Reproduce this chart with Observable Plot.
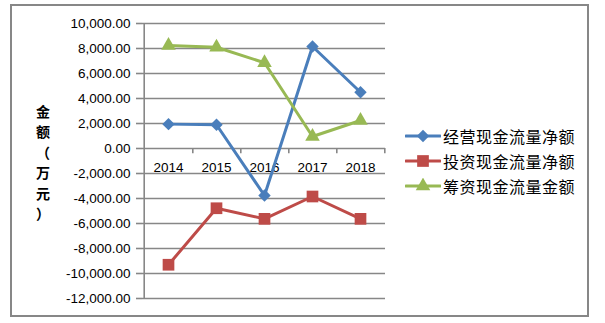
<!DOCTYPE html>
<html><head><meta charset="utf-8">
<script src="https://cdn.jsdelivr.net/npm/d3@7"></script>
<script src="https://cdn.jsdelivr.net/npm/@observablehq/plot@0.6"></script>
<style>
body{margin:0;background:#fff;}
#wrap{position:relative;width:605px;height:323px;overflow:hidden;}
#border{position:absolute;left:10px;top:4px;width:579px;height:313px;border:2px solid #878787;box-sizing:border-box;pointer-events:none;}
#ytitle{position:absolute;left:31px;top:101px;width:24px;text-align:center;font-family:"Noto Sans CJK SC",sans-serif;font-weight:bold;font-size:14px;line-height:20.4px;color:#000;}
#legend{position:absolute;left:405px;top:123px;font-family:"Noto Sans CJK SC",sans-serif;font-size:16px;letter-spacing:0.5px;color:#000;}
.item{display:flex;align-items:center;height:25px;}
.item svg{margin-right:2px;flex:none;}
.item span{white-space:nowrap;}
svg.plot{position:absolute;left:0;top:0;}
</style></head>
<body><div id="wrap"><div id="border"></div><div id="ytitle"></div><div id="legend"></div></div>
<script>
const years = ["2014","2015","2016","2017","2018"];
const seriesNames = ["经营现金流量净额","投资现金流量净额","筹资现金流量金额"];
const operating = [1950, 1900, -3760, 8160, 4500];
const investing = [-9300, -4780, -5630, -3840, -5630];
const financing = [8240, 8100, 6860, 960, 2240];
const yTicks = [-12000,-10000,-8000,-6000,-4000,-2000,0,2000,4000,6000,8000,10000];
const yTitle = "金额（万元）";

const colors = ["#4a7ebb","#be4b48","#98b954"];
const symbols = ["diamond2","square","triangle"];
const radii = [5.6, 6.6, 5.4];
const seriesValues = [operating, investing, financing];

const W = 605, H = 323, mL = 142, mR = 220, mT = 23, mB = 25;
const step = (W - mL - mR) / years.length;
const grid = "#878787";
const fmt = d => d3.format(",.2f")(d).replace("−", "-");

const marks = [
  Plot.ruleY(yTicks, {y: d => d, stroke: grid, strokeWidth: 1.6, strokeOpacity: 1}),
  Plot.axisY(yTicks, {tickSize: 6, tickPadding: 6, tickFormat: fmt, stroke: grid, strokeWidth: 1.6, strokeOpacity: 1, fill: "#000", fontSize: 13.5, label: null}),
  Plot.ruleX([years[0]], {x: d => d, dx: -step / 2, stroke: grid, strokeWidth: 1.6, strokeOpacity: 1}),
  Plot.ruleX(years, {x: d => d, dx: step / 2, y1: 0, y2: -420, stroke: grid, strokeWidth: 1.6, strokeOpacity: 1}),
  Plot.text(years, {x: d => d, y: 0, dy: 19, text: d => d, fontSize: 13.5, fill: "#000"})
];
seriesValues.forEach((vals, s) => {
  const rows = years.map((yr, i) => ({year: yr, value: vals[i]}));
  marks.push(Plot.line(rows, {x: "year", y: "value", stroke: colors[s], strokeWidth: 3, strokeLinejoin: "round", strokeLinecap: "round"}));
});
seriesValues.forEach((vals, s) => {
  const rows = years.map((yr, i) => ({year: yr, value: vals[i]}));
  marks.push(Plot.dot(rows, {x: "year", y: "value", symbol: () => symbols[s], r: radii[s], fill: colors[s], stroke: "none"}));
});

const chart = Plot.plot({
  width: W, height: H,
  marginLeft: mL, marginRight: mR, marginTop: mT, marginBottom: mB,
  x: {type: "point", domain: years, padding: 0.5, axis: null},
  y: {domain: [-12000, 10000], axis: null},
  symbol: {type: "identity"},
  style: {background: "transparent", fontFamily: "'Liberation Sans', Arial, sans-serif", overflow: "visible"},
  marks
});
document.getElementById("wrap").prepend(chart);

document.getElementById("ytitle").innerHTML = Array.from(yTitle).map(c => `<div>${c}</div>`).join("");

const leg = document.getElementById("legend");
seriesNames.forEach((name, s) => {
  const item = document.createElement("div");
  item.className = "item";
  const sz = Math.PI * radii[s] * radii[s];
  const sym = {diamond2: d3.symbolDiamond2, square: d3.symbolSquare, triangle: d3.symbolTriangle}[symbols[s]];
  const path = d3.symbol(sym, sz)();
  item.innerHTML = `<svg width="36" height="16"><line x1="1" x2="35" y1="8" y2="8" stroke="${colors[s]}" stroke-width="3" stroke-linecap="round"/><path transform="translate(18,8)" d="${path}" fill="${colors[s]}"/></svg><span>${name}</span>`;
  leg.appendChild(item);
});
</script>
</body></html>
